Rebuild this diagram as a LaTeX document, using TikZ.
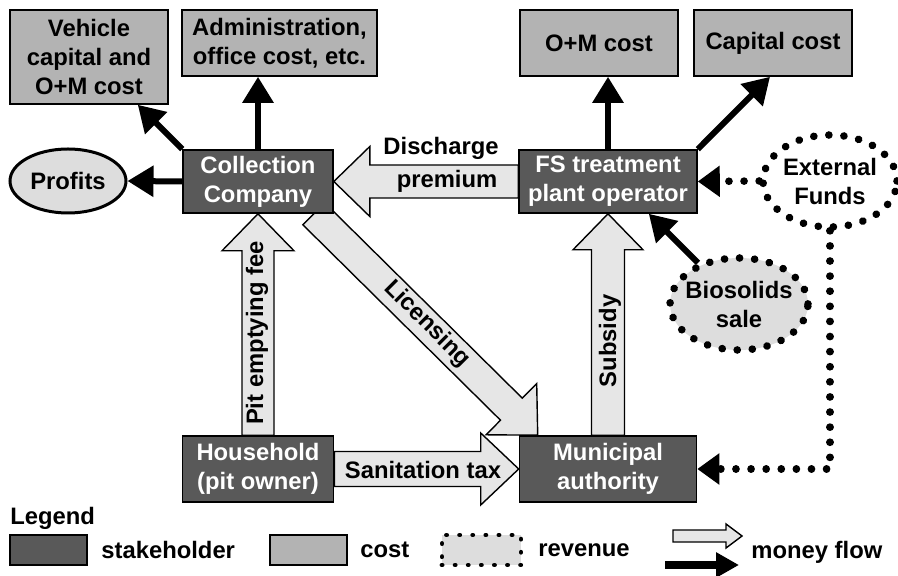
\documentclass[tikz,border=0pt]{standalone}
\usepackage{fontspec}
\setmainfont{Liberation Sans}
\usetikzlibrary{calc,arrows.meta,shapes.geometric}
\pgfdeclarelayer{bg}
\pgfsetlayers{bg,main}
\definecolor{stk}{HTML}{595959}
\definecolor{cst}{HTML}{B3B3B3}
\definecolor{flw}{HTML}{E6E6E6}
\definecolor{rev}{HTML}{DDDDDD}
\newcommand\dgfont{\fontsize{11.9}{14.5}\selectfont\bfseries}
% start, end, body half width, head half width, head length
\newcommand\moneyarrow[5]{%
  \coordinate (ma-h) at ($#2!#5!#1$);
  \draw[flowline] ($#1!#3!90:#2$) -- ($(ma-h)!#3!-90:#1$) -- ($(ma-h)!#4!-90:#1$) -- #2
    -- ($(ma-h)!#4!90:#1$) -- ($(ma-h)!#3!90:#1$) -- ($#1!#3!-90:#2$) -- cycle;
}
\tikzset{
  stakebox/.style={draw=black, line width=0.8pt, fill=stk, text=white, font=\dgfont, align=center, inner sep=0pt},
  costbox/.style={draw=black, line width=0.8pt, fill=cst, text=black, font=\dgfont, align=center, inner sep=0pt},
  revsolid/.style={ellipse, draw=black, line width=1.5pt, fill=rev, font=\dgfont, align=center, inner sep=0pt},
  revdot/.style={ellipse, draw=black, line width=3.8pt, line cap=round, dash pattern=on 0.05pt off 7.5pt, font=\dgfont, align=center, inner sep=0pt},
  flowline/.style={draw=black, line width=0.7pt, fill=flw, line join=miter},
  blk/.style={draw=black, line width=3pt, -{Triangle[length=13pt,width=15pt]}},
  dotline/.style={draw=black, line width=3.8pt, line cap=round, dash pattern=on 0.05pt off 7.5pt, -{Triangle[length=11pt,width=15pt]}},
  lbl/.style={font=\dgfont, text=black, inner sep=0pt},
}
\begin{document}
\begin{tikzpicture}[x=0.5pt, y=-0.5pt]
\useasboundingbox (0,0) rectangle (898,576);
% cost boxes
\node[costbox, minimum width=79pt, minimum height=47pt] (veh) at (89,57) {Vehicle\\capital and\\O+M cost};
\node[costbox, minimum width=97.5pt, minimum height=33pt] (adm) at (279.5,43) {Administration,\\office cost, etc.};
\node[costbox, minimum width=79pt, minimum height=33pt] (om) at (599,43) {O+M cost};
\node[costbox, minimum width=79pt, minimum height=33pt] (cap) at (773,43) {Capital cost};
% stakeholders
\node[stakebox, minimum width=75pt, minimum height=31.5pt] (cc) at (258,181.5) {Collection\\Company};
\node[stakebox, minimum width=89pt, minimum height=31.5pt] (fs) at (608,181.5) {FS treatment\\plant operator};
\node[stakebox, minimum width=75.5pt, minimum height=33pt] (hh) at (258,469) {Household\\(pit owner)};
\node[stakebox, minimum width=88.5pt, minimum height=33pt] (mun) at (608,469) {Municipal\\authority};
% revenues
\node[revsolid, minimum width=58pt, minimum height=32pt] (prof) at (68,181) {Profits};
\node[revdot, fill=white, minimum width=67pt, minimum height=46pt, inner xsep=-4pt] (ext) at (830,181) {External\\Funds};
\node[revdot, fill=rev, minimum width=69pt, minimum height=46pt, inner xsep=-8pt] (bio) at (739,304) {Biosolids\\sale};
% money flows (block arrows)
\coordinate (licS) at ($(cc.south east)+(-20,0)$);
\coordinate (licE) at ($(mun.north west)+(19,0)$);
\begin{pgfonlayer}{bg}
\moneyarrow{(fs.west)}{(cc.east)}{8.25pt}{17.5pt}{18pt}
\moneyarrow{(hh.north)}{(cc.south)}{8pt}{18pt}{18.5pt}
\moneyarrow{(mun.north)}{(fs.south)}{8.25pt}{17.5pt}{18pt}
\moneyarrow{(hh.east)}{(mun.west)}{8.75pt}{18pt}{19pt}
\moneyarrow{(licS)}{(licE)}{7.75pt}{18pt}{18.5pt}
\end{pgfonlayer}
\node[lbl] (tdis) at (441,148) {Discharge};
\node[lbl] (tprem) at (447,181) {premium};
\node[lbl] (tsan) at (423,470) {Sanitation tax};
\node[lbl, rotate=90] (tpit) at (257,333) {Pit emptying fee};
\node[lbl, rotate=90] (tsub) at (610,341) {Subsidy};
\node[lbl, rotate=-45] (tlic) at (427,324) {Licensing};
% black money flows
\draw[blk] (cc.north west) -- ($(veh.south east)+(-31,0)$);
\draw[blk] (cc.north) -- (cc.north |- adm.south);
\draw[blk] (cc.west) -- (prof.east);
\draw[blk] (fs.north) -- (fs.north |- om.south);
\draw[blk] (fs.north east) -- ($(cap.south)+(-3,0)$);
\draw[blk] (bio.135) -- ($(fs.south east)+(-49,0)$);
\draw[dotline] (ext.west) -- (fs.east);
\draw[dotline] (ext.south) |- (mun.east);
% legend
\node[lbl, anchor=west] (leg) at (10,518) {Legend};
\node[stakebox, minimum width=38.5pt, minimum height=15pt] (lstk) at (48.5,550) {};
\node[lbl, anchor=west] (lstkt) at (101,550) {stakeholder};
\node[costbox, minimum width=38.5pt, minimum height=15pt] (lcst) at (308.5,550) {};
\node[lbl, anchor=west] (lcstt) at (360,550) {cost};
\node[draw=black, fill=rev, line width=2.4pt, line cap=round, dash pattern=on 0.05pt off 6.5pt, minimum width=39.5pt, minimum height=15pt, inner sep=0pt] (lrev) at (481.5,550) {};
\node[lbl, anchor=west] (lrevt) at (538,550) {revenue};
\coordinate (lwa) at (673,536);
\coordinate (lwb) at (742,536);
\moneyarrow{(lwa)}{(lwb)}{3pt}{6pt}{8pt}
\coordinate (lba) at (665,565);
\coordinate (lbb) at (739,565);
\draw[draw=black, line width=4pt, -{Triangle[length=11.5pt,width=12pt]}] (lba) -- (lbb);
\node[lbl, anchor=west] (lmon) at (751,552) {money flow};
\end{tikzpicture}
\end{document}
